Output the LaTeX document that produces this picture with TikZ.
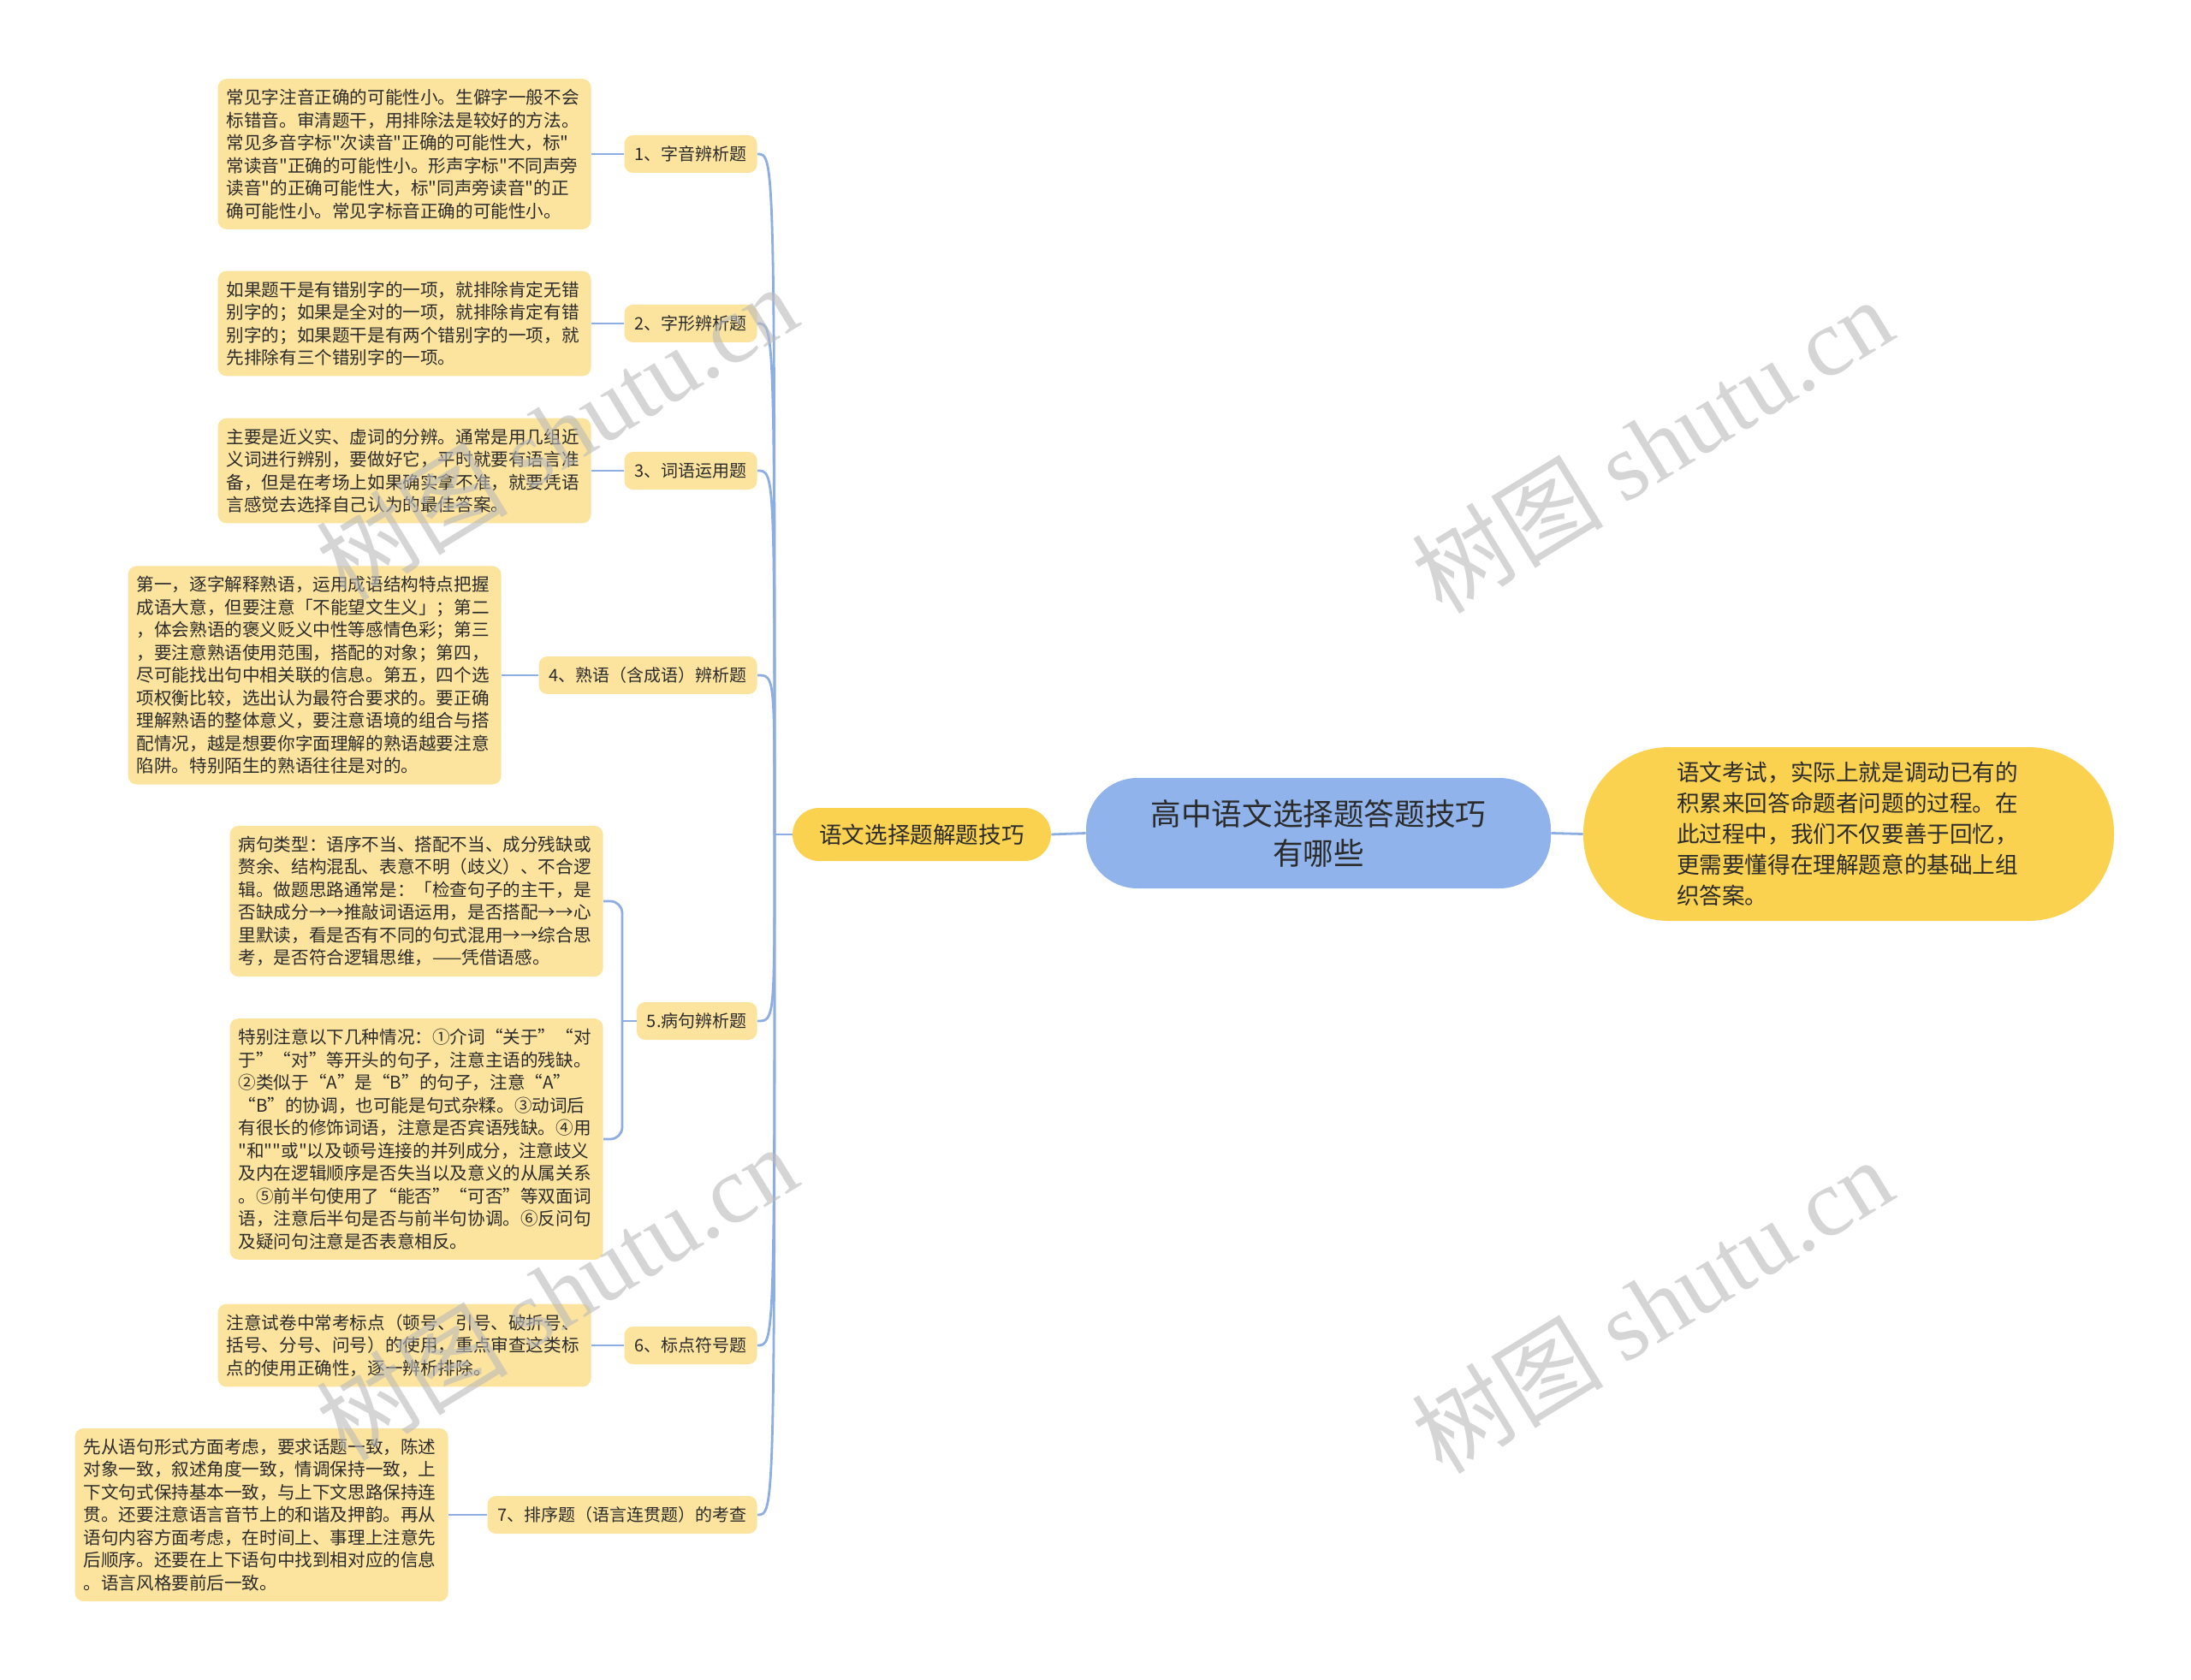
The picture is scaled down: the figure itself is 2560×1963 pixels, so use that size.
\documentclass[tikz,border=0pt]{standalone}
\usepackage{fontspec}
\setmainfont{Noto Sans CJK SC}[Ligatures=TeXOff]
\newfontfamily\wmfont{Liberation Serif}
\usepackage{tikz}
\usetikzlibrary{calc}

\definecolor{leafyellow}{HTML}{FDE49E}
\definecolor{subyellow}{HTML}{FBD24F}
\definecolor{rootblue}{HTML}{8FB3EA}
\definecolor{linkblue}{HTML}{8CAEE2}
\definecolor{inktext}{HTML}{2B2B2B}

\tikzset{
	detail/.style = {fill = leafyellow, rounded corners = 5pt, text = inktext, align = left,
		text width = 208pt, inner xsep = 5pt, inner ysep = 6pt, anchor = east,
		font = \fontsize{10.3pt}{13.25pt}\selectfont},
	topic/.style = {fill = leafyellow, rounded corners = 5pt, text = inktext, inner xsep = 6pt,
		minimum height = 22pt, anchor = east, font = \fontsize{10pt}{12pt}\selectfont},
	branch/.style = {draw = linkblue, line width = 1.4pt},
	watermark/.style = {text = gray!55, opacity = 0.6, rotate = 31.5, font = \fontsize{56pt}{60pt}\selectfont}
}

\begin{document}
\begin{tikzpicture}[x = 0.5pt, y = -0.5pt]
					\def\hubX{905};
					\def\forkX{727};

					\useasboundingbox (0,0) rectangle (2560,1963);

					\begin{scope}
						\node [fill = rootblue, rounded corners = 30pt, text = inktext, align = center,
							minimum width = 271.5pt, minimum height = 64.5pt,
							font = \fontsize{17.8pt}{23pt}\selectfont] (root) at (1540.5,973.5) {高中语文选择题答题技巧\\有哪些};
						\node [fill = subyellow, rounded corners = 15.5pt, text = inktext,
							minimum width = 151pt, minimum height = 31pt,
							font = \fontsize{13.3pt}{16pt}\selectfont] (sub) at (1077,975) {语文选择题解题技巧};
						\node [fill = subyellow, rounded corners = 50pt, text = inktext, align = left,
							text width = 201pt, minimum width = 310pt, minimum height = 101.5pt,
							font = \fontsize{13.3pt}{18pt}\selectfont] (note) at (2160,974.5) {语文考试，实际上就是调动已有的\\积累来回答命题者问题的过程。在\\此过程中，我们不仅要善于回忆，\\更需要懂得在理解题意的基础上组\\织答案。};
					\end{scope}

					\begin{scope}
						\node [topic] (t1) at (885,180) {1、字音辨析题};
						\node [topic] (t2) at (885,378) {2、字形辨析题};
						\node [topic] (t3) at (885,550) {3、词语运用题};
						\node [topic] (t4) at (885,789) {4、熟语（含成语）辨析题};
						\node [topic] (t5) at (885,1193) {5.病句辨析题};
						\node [topic] (t6) at (885,1572) {6、标点符号题};
						\node [topic] (t7) at (885,1770) {7、排序题（语言连贯题）的考查};
					\end{scope}

					\begin{scope}
						\node [detail] (d1) at (691,180) {常见字注音正确的可能性小。生僻字一般不会\\标错音。审清题干，用排除法是较好的方法。\\常见多音字标"次读音"正确的可能性大，标"\\常读音"正确的可能性小。形声字标"不同声旁\\读音"的正确可能性大，标"同声旁读音"的正\\确可能性小。常见字标音正确的可能性小。};
						\node [detail] (d2) at (691,378) {如果题干是有错别字的一项，就排除肯定无错\\别字的；如果是全对的一项，就排除肯定有错\\别字的；如果题干是有两个错别字的一项，就\\先排除有三个错别字的一项。};
						\node [detail] (d3) at (691,550) {主要是近义实、虚词的分辨。通常是用几组近\\义词进行辨别，要做好它，平时就要有语言准\\备，但是在考场上如果确实拿不准，就要凭语\\言感觉去选择自己认为的最佳答案。};
						\node [detail] (d4) at (586,789) {第一，逐字解释熟语，运用成语结构特点把握\\成语大意，但要注意「不能望文生义」；第二\\，体会熟语的褒义贬义中性等感情色彩；第三\\，要注意熟语使用范围，搭配的对象；第四，\\尽可能找出句中相关联的信息。第五，四个选\\项权衡比较，选出认为最符合要求的。要正确\\理解熟语的整体意义，要注意语境的组合与搭\\配情况，越是想要你字面理解的熟语越要注意\\陷阱。特别陌生的熟语往往是对的。};
						\node [detail] (d5a) at (705,1053) {病句类型：语序不当、搭配不当、成分残缺或\\赘余、结构混乱、表意不明（歧义）、不合逻\\辑。做题思路通常是：「检查句子的主干，是\\否缺成分→→推敲词语运用，是否搭配→→心\\里默读，看是否有不同的句式混用→→综合思\\考，是否符合逻辑思维，——凭借语感。};
						\node [detail] (d5b) at (705,1331) {特别注意以下几种情况：①介词“关于”“对\\于”“对”等开头的句子，注意主语的残缺。\\②类似于“A”是“B”的句子，注意“A”\\“B”的协调，也可能是句式杂糅。③动词后\\有很长的修饰词语，注意是否宾语残缺。④用\\"和""或"以及顿号连接的并列成分，注意歧义\\及内在逻辑顺序是否失当以及意义的从属关系\\。⑤前半句使用了“能否”“可否”等双面词\\语，注意后半句是否与前半句协调。⑥反问句\\及疑问句注意是否表意相反。};
						\node [detail] (d6) at (691,1572) {注意试卷中常考标点（顿号、引号、破折号、\\括号、分号、问号）的使用，重点审查这类标\\点的使用正确性，逐一辨析排除。};
						\node [detail] (d7) at (524,1770) {先从语句形式方面考虑，要求话题一致，陈述\\对象一致，叙述角度一致，情调保持一致，上\\下文句式保持基本一致，与上下文思路保持连\\贯。还要注意语言音节上的和谐及押韵。再从\\语句内容方面考虑，在时间上、事理上注意先\\后顺序。还要在上下语句中找到相对应的信息\\。语言风格要前后一致。};
					\end{scope}

					\begin{scope}[branch]
						\coordinate (hub) at (\hubX,975);
						\coordinate (fork) at (\forkX,1193);
						\draw (root.east) -- (note.west);
						\draw (root.west) -- (sub.east);
						\draw (sub.west) -- (hub);
						\foreach \i in {1,...,7}
							\draw (hub) .. controls (hub |- t\i.east) .. (t\i.east);
						\foreach \i in {1,2,3,4,6,7}
							\draw (t\i.west) -- (d\i.east);
						\draw (t5.west) -- (fork);
						\draw [rounded corners = 7pt] (d5a.east) -| (fork |- d5b.east) -- (d5b.east);
					\end{scope}

					\begin{scope}
						\node [watermark] (wm1) at (650,505) {树图 {\wmfont shutu.cn}};
						\node [watermark] (wm2) at (650,1510) {树图 {\wmfont shutu.cn}};
						\node [watermark] (wm3) at (1930,520) {树图 {\wmfont shutu.cn}};
						\node [watermark] (wm4) at (1930,1525) {树图 {\wmfont shutu.cn}};
					\end{scope}
				\end{tikzpicture}
\end{document}
